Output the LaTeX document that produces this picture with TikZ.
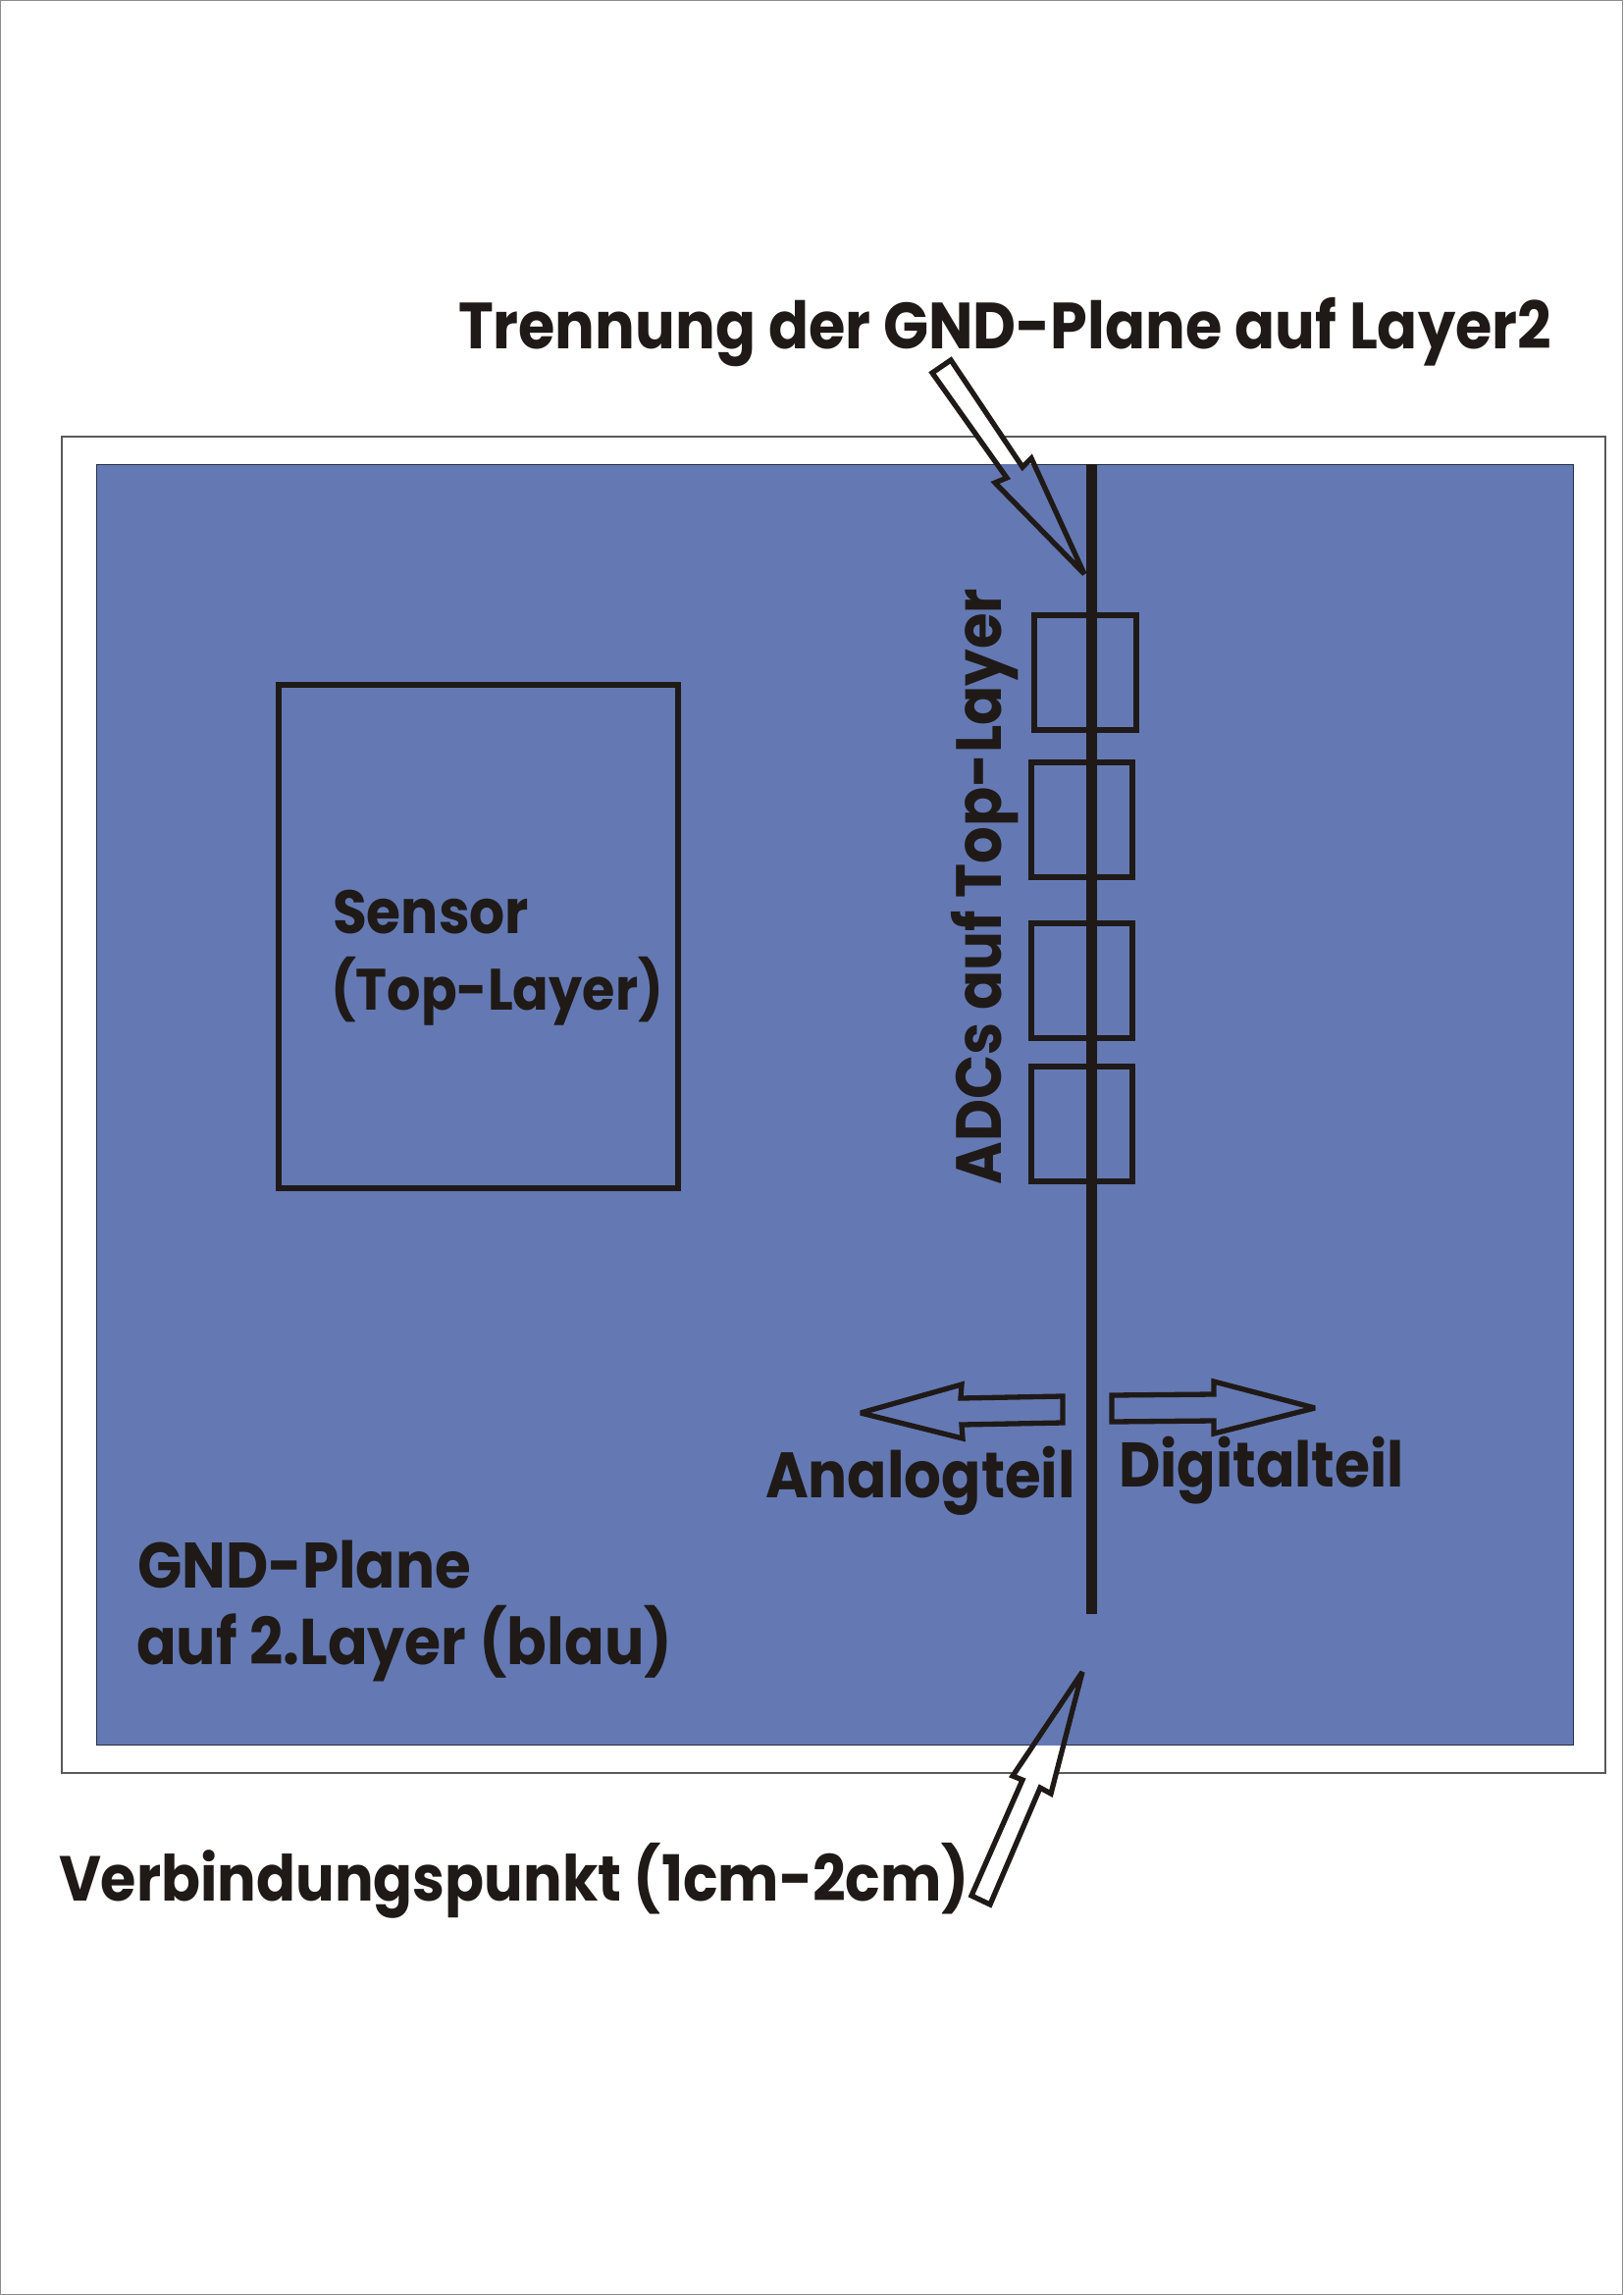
\documentclass[tikz,border=0pt]{standalone}
\usepackage{fontspec}
\usepackage{graphicx}
\setmainfont{Poppins}[BoldFont={Poppins Bold}]
\definecolor{ink}{HTML}{1F1A17}
\definecolor{plane}{HTML}{6479B3}
\newcommand{\lbl}[2]{\resizebox{#1pt}{!}{\scalebox{1}[1.1]{\fontsize{60}{60}\selectfont\bfseries #2}}}
\newcommand{\downarrowpath}{(950,380) -- (969,367) -- (1042,476) -- (1051,467) -- (1105,585) -- (1014,492) -- (1026,487) -- cycle}
\newcommand{\uparrowpath}{(1103,1704) -- (1032,1810) -- (1042,1814) -- (990,1932) -- (1009,1941) -- (1060,1822) -- (1071,1828) -- cycle}
\newcommand{\planepath}{(98,473) rectangle (1603,1778)}
\tikzset{
  x=1pt,y=-1pt,
  lab/.style={inner sep=0pt,outer sep=0pt,anchor=base west,text=ink},
  hollow/.style={draw=ink,line width=5.3pt,miter limit=3,line join=miter},
  box/.style={draw=ink,line width=5.3pt},
}
\begin{document}
\begin{tikzpicture}
\useasboundingbox (0,0) rectangle (1654,2339);
\draw[fill=white,draw=black!45,line width=1.5pt] (0.7,0.7) rectangle (1653.3,2338.3);
\draw[draw=black!65,line width=1.2pt] (63,445) rectangle (1636,1807);
\draw[draw=black!60!plane,fill=plane,line width=1pt] \planepath;
% sensor and ADC boxes
\draw[box] (284,698) rectangle (691,1211);
\draw[box] (1054,627) rectangle (1158,744);
\draw[box] (1051,777) rectangle (1154,894);
\draw[box] (1051,941) rectangle (1154,1058);
\draw[box] (1051,1087) rectangle (1154,1204);
% separation
\fill[ink] (1107,473) rectangle (1118,1645);
% arrows
\fill[white] \downarrowpath;
\begin{scope}\clip \planepath; \fill[plane] \downarrowpath; \end{scope}
\draw[hollow] \downarrowpath;
\fill[white] \uparrowpath;
\begin{scope}\clip \planepath; \fill[plane] \uparrowpath; \end{scope}
\draw[hollow] \uparrowpath;
\draw[hollow] (1083,1423) -- (979,1425) -- (980,1411) -- (877,1440) -- (981,1466) -- (980,1452) -- (1083,1450) -- cycle;
\draw[hollow] (1133,1422) -- (1237,1421) -- (1237,1408) -- (1340,1435) -- (1237,1461) -- (1237,1448) -- (1133,1449) -- cycle;
% labels
\node[lab] (t1) at (467,355) {\lbl{1114}{Trennung der GND-Plane auf Layer2}};
\node[lab] (t2) at (339,951) {\lbl{200}{Sensor}};
\node[lab] (t3) at (337,1029) {\lbl{339}{(Top-Layer)}};
\node[lab,rotate=90] (t4) at (1020,1207) {\lbl{607}{ADCs auf Top-Layer}};
\node[lab] (t5) at (780,1526) {\lbl{316}{Analogteil}};
\node[lab] (t6) at (1140,1515) {\lbl{291}{Digitalteil}};
\node[lab] (t7) at (140,1618) {\lbl{340}{GND-Plane}};
\node[lab] (t8) at (139,1696) {\lbl{546}{auf 2.Layer (blau)}};
\node[lab] (t9) at (60,1937) {\lbl{928}{Verbindungspunkt (1cm-2cm)}};
\end{tikzpicture}
\end{document}
